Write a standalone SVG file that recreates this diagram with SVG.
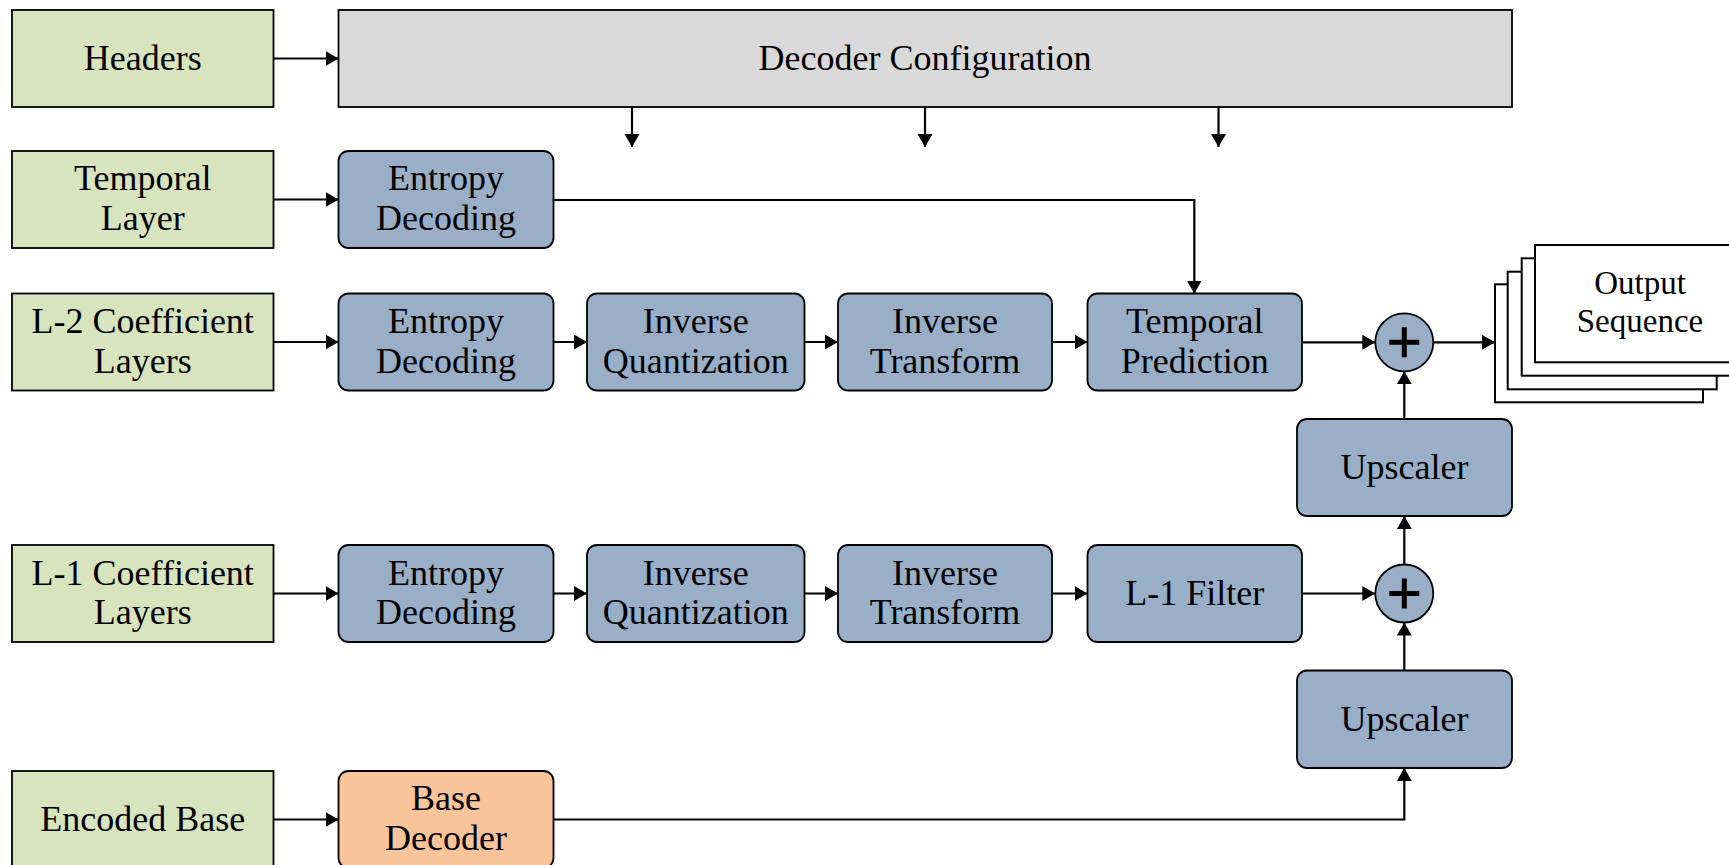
<svg xmlns="http://www.w3.org/2000/svg" width="1729" height="865" viewBox="0 0 1729 865">
<style>
.g{fill:#D7E4BD;stroke:#000;stroke-width:1.8}
.b{fill:#98AFC7;stroke:#000;stroke-width:1.8}
.o{fill:#F9C499;stroke:#000;stroke-width:1.8}
.gr{fill:#D9D9D9;stroke:#000;stroke-width:1.8}
.w{fill:#fff;stroke:#000;stroke-width:2}
text{font-family:"Liberation Serif","Times New Roman",serif;font-size:36px;fill:#000;text-anchor:middle}
.s{font-size:33px}
.c{fill:none;stroke:#000;stroke-width:2.2}
.p{stroke:#000;stroke-width:5;fill:none}
</style>
<defs>
<marker id="ah" markerUnits="userSpaceOnUse" markerWidth="16" markerHeight="16" refX="13" refY="7.5" orient="auto">
<path d="M0,0 L13,7.5 L0,15 z" fill="#000"/>
</marker>
</defs>
<g id="headers"><rect class="g" x="12" y="10" width="261.5" height="97"/><text x="142.75" y="70">Headers</text></g>
<g id="decoder-config"><rect class="gr" x="338.5" y="10" width="1173.5" height="97"/><text x="925" y="70">Decoder Configuration</text></g>
<g id="temporal-layer"><rect class="g" x="12" y="151" width="261.5" height="97"/><text x="142.75" y="190">Temporal</text><text x="142.75" y="230">Layer</text></g>
<g id="entropy-t"><rect class="b" x="338.5" y="151" width="215" height="97" rx="10"/><text x="446" y="190">Entropy</text><text x="446" y="230">Decoding</text></g>
<g id="l2"><rect class="g" x="12" y="293.5" width="261.5" height="97"/><text x="142.75" y="333">L-2 Coefficient</text><text x="142.75" y="372.5">Layers</text></g>
<g id="entropy-2"><rect class="b" x="338.5" y="293.5" width="215" height="97" rx="10"/><text x="446" y="333">Entropy</text><text x="446" y="372.5">Decoding</text></g>
<g id="iq-2"><rect class="b" x="587" y="293.5" width="217.5" height="97" rx="10"/><text x="695.75" y="333">Inverse</text><text x="695.75" y="372.5">Quantization</text></g>
<g id="it-2"><rect class="b" x="838" y="293.5" width="214" height="97" rx="10"/><text x="945" y="333">Inverse</text><text x="945" y="372.5">Transform</text></g>
<g id="tp"><rect class="b" x="1087.5" y="293.5" width="214.5" height="97" rx="10"/><text x="1194.75" y="333">Temporal</text><text x="1194.75" y="372.5">Prediction</text></g>
<g id="sum-2"><circle class="b" cx="1404.3" cy="342.3" r="29"/><path class="p" d="M1389.3,342.3 H1419.3 M1404.3,327.3 V357.3"/></g>
<g id="output">
<rect class="w" x="1495" y="284.3" width="208" height="118"/>
<rect class="w" x="1507.7" y="271.7" width="209" height="117.6"/>
<rect class="w" x="1521.7" y="258.3" width="209" height="117.4"/>
<rect class="w" x="1535" y="245" width="209" height="117.3"/>
<text class="s" x="1640" y="294">Output</text><text class="s" x="1640" y="332">Sequence</text>
</g>
<g id="upscaler-1"><rect class="b" x="1297" y="419" width="215" height="97" rx="10"/><text x="1404.5" y="479">Upscaler</text></g>
<g id="l1"><rect class="g" x="12" y="545" width="261.5" height="97"/><text x="142.75" y="584.5">L-1 Coefficient</text><text x="142.75" y="624">Layers</text></g>
<g id="entropy-1"><rect class="b" x="338.5" y="545" width="215" height="97" rx="10"/><text x="446" y="584.5">Entropy</text><text x="446" y="624">Decoding</text></g>
<g id="iq-1"><rect class="b" x="587" y="545" width="217.5" height="97" rx="10"/><text x="695.75" y="584.5">Inverse</text><text x="695.75" y="624">Quantization</text></g>
<g id="it-1"><rect class="b" x="838" y="545" width="214" height="97" rx="10"/><text x="945" y="584.5">Inverse</text><text x="945" y="624">Transform</text></g>
<g id="l1-filter"><rect class="b" x="1087.5" y="545" width="214.5" height="97" rx="10"/><text x="1194.75" y="605">L-1 Filter</text></g>
<g id="sum-1"><circle class="b" cx="1404.3" cy="593.5" r="29"/><path class="p" d="M1389.3,593.5 H1419.3 M1404.3,578.5 V608.5"/></g>
<g id="upscaler-2"><rect class="b" x="1297" y="670.5" width="215" height="97.5" rx="10"/><text x="1404.5" y="730.5">Upscaler</text></g>
<g id="encoded-base"><rect class="g" x="12" y="771" width="261.5" height="97"/><text x="142.75" y="831">Encoded Base</text></g>
<g id="base-decoder"><rect class="o" x="338.5" y="771" width="215" height="97" rx="10"/><text x="446" y="810">Base</text><text x="446" y="850">Decoder</text></g>
<g id="connectors">
<path class="c" marker-end="url(#ah)" d="M273.5,58.5 H338.5"/>
<path class="c" marker-end="url(#ah)" d="M632,107 V147"/>
<path class="c" marker-end="url(#ah)" d="M925,107 V147"/>
<path class="c" marker-end="url(#ah)" d="M1218.5,107 V147"/>
<path class="c" marker-end="url(#ah)" d="M273.5,199.5 H338.5"/>
<path class="c" marker-end="url(#ah)" d="M553.5,200 H1194.3 V293.5"/>
<path class="c" marker-end="url(#ah)" d="M273.5,342 H338.5"/>
<path class="c" marker-end="url(#ah)" d="M553.5,342 H587"/>
<path class="c" marker-end="url(#ah)" d="M804.5,342 H838"/>
<path class="c" marker-end="url(#ah)" d="M1052,342 H1087.5"/>
<path class="c" marker-end="url(#ah)" d="M1302,342.3 H1375.3"/>
<path class="c" marker-end="url(#ah)" d="M1433.3,342.3 H1495"/>
<path class="c" marker-end="url(#ah)" d="M1404.3,419 V371.3"/>
<path class="c" marker-end="url(#ah)" d="M1404.3,564.5 V516"/>
<path class="c" marker-end="url(#ah)" d="M273.5,593.5 H338.5"/>
<path class="c" marker-end="url(#ah)" d="M553.5,593.5 H587"/>
<path class="c" marker-end="url(#ah)" d="M804.5,593.5 H838"/>
<path class="c" marker-end="url(#ah)" d="M1052,593.5 H1087.5"/>
<path class="c" marker-end="url(#ah)" d="M1302,593.5 H1375.3"/>
<path class="c" marker-end="url(#ah)" d="M1404.3,670.5 V622.5"/>
<path class="c" marker-end="url(#ah)" d="M273.5,819.5 H338.5"/>
<path class="c" marker-end="url(#ah)" d="M553.5,819.5 H1404.3 V768"/>
</g>
</svg>
